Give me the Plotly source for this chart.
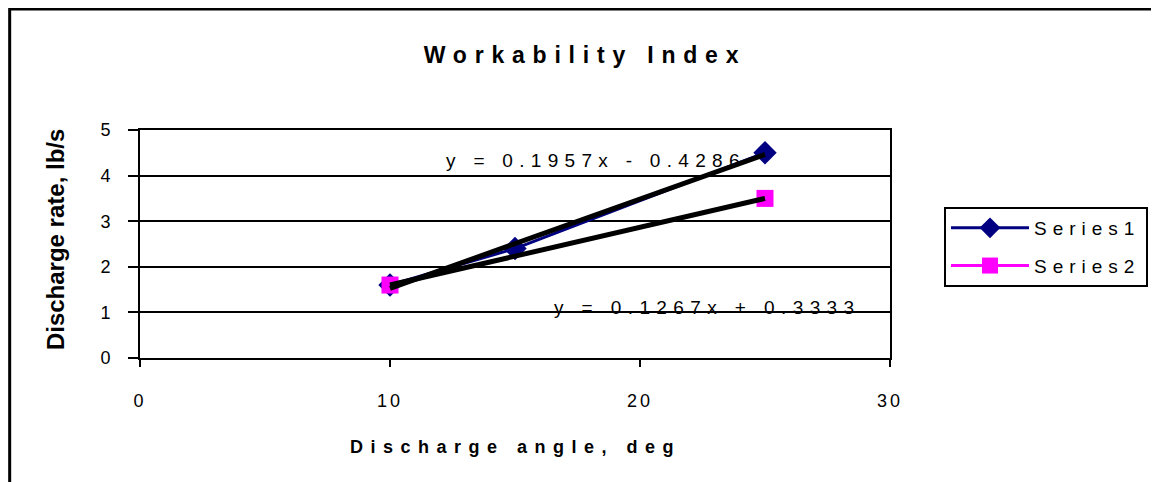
"""Workability Index chart: discharge rate vs discharge angle with linear trendlines."""

import numpy as np
import plotly.graph_objects as go

angle_s1 = [10, 15, 25]
rate_s1 = [1.6, 2.4, 4.5]
angle_s2 = [10, 25]
rate_s2 = [1.6, 3.5]
x_ticks = [0, 10, 20, 30]
y_ticks = [0, 1, 2, 3, 4, 5]

FONT = "Liberation Sans, Arial, sans-serif"
OFF = 8  # page body margin shifts the figure by this many px
W, H = 1159 - OFF, 482 - OFF


def spaced(text, px):
    return f"<span style='letter-spacing:{px}px'>{text}</span>"


def fit_label(x, y):
    slope, icpt = np.polyfit(x, y, 1)
    sign = "-" if icpt < 0 else "+"
    return slope, icpt, f"y = {slope:.4f}x {sign} {abs(icpt):.4f}"


def px_x(p):
    return (p - 140) / 751


def px_y(p):
    return (358 - p) / 228


fig = go.Figure()
fig.add_trace(
    go.Scatter(
        x=angle_s1, y=rate_s1, mode="lines+markers", name=spaced("Series1", 6),
        legendgroup="s1",
        line={"color": "#000080", "width": 3},
        marker={"symbol": "diamond", "size": 18, "color": "#000080"},
    )
)
fig.add_trace(
    go.Scatter(
        x=angle_s2, y=rate_s2, mode="lines+markers", name=spaced("Series2", 6),
        legendgroup="s2",
        line={"color": "#ff00ff", "width": 3},
        marker={"symbol": "square", "size": 17, "color": "#ff00ff"},
    )
)

labels = []
for xs, ys in [(angle_s1, rate_s1), (angle_s2, rate_s2)]:
    slope, icpt, label = fit_label(xs, ys)
    labels.append(label)
    tx = np.array([min(xs), max(xs)], dtype=float)
    fig.add_trace(
        go.Scatter(
            x=tx, y=slope * tx + icpt, mode="lines", showlegend=False,
            line={"color": "black", "width": 5}, hoverinfo="skip",
        )
    )

fig.add_annotation(x=18.25, y=4.34, text=spaced(labels[0], 6.3), showarrow=False,
                   xanchor="center", yanchor="middle",
                   font={"size": 19, "color": "black", "family": FONT})
fig.add_annotation(x=22.7, y=1.10, text=spaced(labels[1], 6.4), showarrow=False,
                   xanchor="center", yanchor="middle",
                   font={"size": 19, "color": "black", "family": FONT})

# axis titles
fig.add_annotation(xref="paper", yref="paper", x=px_x(55), y=px_y(240),
                   xanchor="center", yanchor="middle",
                   text="<b>Discharge rate, lb/s</b>", textangle=-90, showarrow=False,
                   font={"size": 24, "color": "black", "family": FONT})
fig.add_annotation(xref="paper", yref="paper", x=px_x(516), y=px_y(447),
                   xanchor="center", yanchor="middle",
                   text="<b>" + spaced("Discharge angle, deg", 7.5) + "</b>", showarrow=False,
                   font={"size": 18, "color": "black", "family": FONT})

# outer chart border (only left and top edges are in view)
fig.add_shape(type="rect", xref="paper", yref="paper",
              x0=px_x(9.5), y0=-1.0, x1=1.6, y1=px_y(9),
              line={"color": "black", "width": 3})

fig.update_layout(
    width=W, height=H,
    paper_bgcolor="white", plot_bgcolor="white",
    font={"family": FONT, "color": "black", "size": 18},
    title={
        "text": "<b>" + spaced("Workability Index", 7.8) + "</b>",
        "x": (585 - OFF) / W, "xanchor": "center",
        "y": 1 - (55 - OFF) / H, "yanchor": "middle",
        "font": {"size": 23, "color": "black", "family": FONT},
    },
    margin={"l": 140 - OFF, "r": 1159 - 891, "t": 130 - OFF, "b": 482 - 358},
    showlegend=True,
    legend={
        "x": px_x(944), "y": px_y(207), "xanchor": "left", "yanchor": "top",
        "bordercolor": "black", "borderwidth": 2, "bgcolor": "white",
        "font": {"size": 19, "color": "black", "family": FONT},
        "itemwidth": 78, "traceorder": "grouped", "tracegroupgap": 10,
    },
    xaxis={
        "range": [0, 30], "tickvals": x_ticks,
        "ticktext": [spaced(str(v), 3) for v in x_ticks],
        "showgrid": False, "zeroline": False,
        "showline": True, "linecolor": "black", "linewidth": 2, "mirror": True,
        "ticks": "outside", "ticklen": 7, "tickwidth": 2, "tickcolor": "black",
        "ticklabelstandoff": 18,
        "tickfont": {"size": 18, "color": "black", "family": FONT},
    },
    yaxis={
        "range": [0, 5], "tickvals": y_ticks,
        "showgrid": True, "gridcolor": "black", "gridwidth": 2, "zeroline": False,
        "showline": True, "linecolor": "black", "linewidth": 2, "mirror": True,
        "ticks": "outside", "ticklen": 10, "tickwidth": 2, "tickcolor": "black",
        "ticklabelstandoff": 14,
        "tickfont": {"size": 18, "color": "black", "family": FONT},
    },
)

fig.write_html("out.html")
